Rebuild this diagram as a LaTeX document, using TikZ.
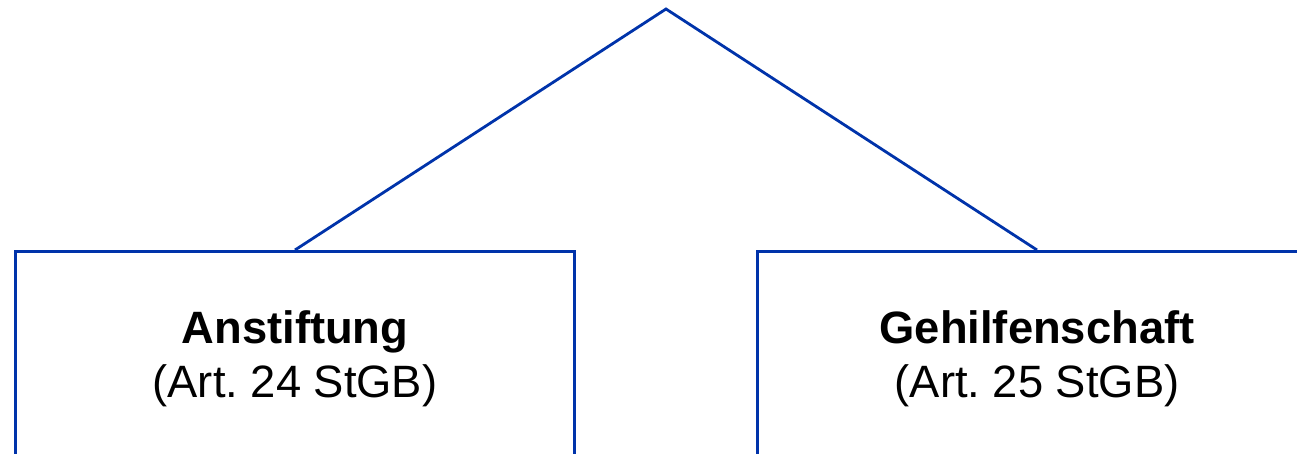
\documentclass[tikz,border=0pt]{standalone}
\usepackage{fontspec}
\setmainfont{Liberation Sans}
\usepackage{xcolor}
\usetikzlibrary{positioning}
\definecolor{tblue}{HTML}{0033AA}
\frenchspacing

\begin{document}
\begin{tikzpicture}[x=1cm, y=1cm,
  artbox/.style={draw=tblue, line width=1.6pt, minimum width=11.19cm, minimum height=4.3cm,
    inner sep=0pt, align=center, font=\fontsize{25.8}{30.7}\selectfont, anchor=north}]
\useasboundingbox (0,0) rectangle (25.94,9.06);
\clip (0,0) rectangle (25.94,9.06);
\coordinate (top) at (13.32,8.88);
\node[artbox] (anst) at (5.90,4.06) {\textbf{Anstiftung}\\(Art. 24 StGB)};
\node[artbox] (gehi) at (20.74,4.06) {\textbf{Gehilfenschaft}\\(Art. 25 StGB)};
\draw[tblue, line width=1.6pt, line join=miter] (anst.north) -- (top) -- (gehi.north);
\end{tikzpicture}
\end{document}
